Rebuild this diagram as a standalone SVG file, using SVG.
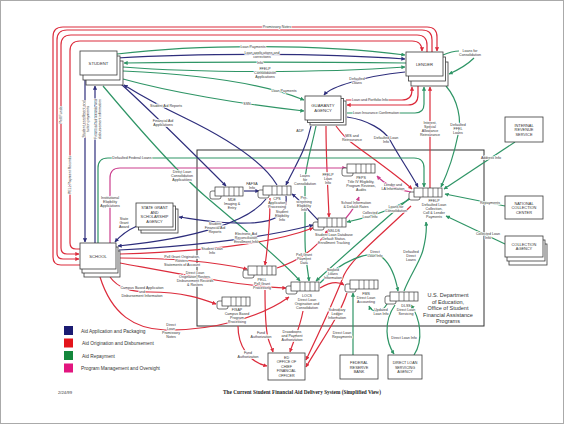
<svg xmlns="http://www.w3.org/2000/svg" width="564" height="424" viewBox="0 0 564 424">
<defs>
<style>
.bx{fill:#fff;stroke:#3a3a3a;stroke-width:0.8}
.nt{font-family:'Liberation Sans',Arial,sans-serif;font-size:4.2px;fill:#333;text-anchor:middle}
.c{fill:none;stroke-width:1.2}
.N{stroke:#2e2e7c}.R{stroke:#dc2c3c}.G{stroke:#2f9566}.M{stroke:#cc3f8e}
.eN{marker-end:url(#aN)}.eR{marker-end:url(#aR)}.eG{marker-end:url(#aG)}.eM{marker-end:url(#aM)}
.lb{font-family:'Liberation Sans',Arial,sans-serif;font-size:3.6px;fill:#333;text-anchor:middle;paint-order:stroke;stroke:#fff;stroke-width:1.4px;stroke-linejoin:round}
.lg{font-family:'Liberation Sans',Arial,sans-serif;font-size:4.8px;fill:#333}
.dept{font-family:'Liberation Sans',Arial,sans-serif;font-size:5.5px;fill:#333;text-anchor:middle}
</style>
<marker id="aN" viewBox="0 0 10 10" refX="9" refY="5" markerWidth="3.4" markerHeight="3.4" orient="auto"><path d="M0,0L10,5L0,10z" fill="#2e2e7c"/></marker>
<marker id="aR" viewBox="0 0 10 10" refX="9" refY="5" markerWidth="3.4" markerHeight="3.4" orient="auto"><path d="M0,0L10,5L0,10z" fill="#dc2c3c"/></marker>
<marker id="aG" viewBox="0 0 10 10" refX="9" refY="5" markerWidth="3.4" markerHeight="3.4" orient="auto"><path d="M0,0L10,5L0,10z" fill="#2f9566"/></marker>
<marker id="aM" viewBox="0 0 10 10" refX="9" refY="5" markerWidth="3.4" markerHeight="3.4" orient="auto"><path d="M0,0L10,5L0,10z" fill="#cc3f8e"/></marker>
<g id="store">
<rect x="-5" y="4" width="11" height="8" rx="2" fill="#fff" stroke="#333" stroke-width="0.7"/>
<rect x="0" y="0" width="28" height="9" fill="#fff" stroke="#333" stroke-width="0.7"/>
<path d="M9,0V9M14,0V9M19,0V9M24,0V9" stroke="#333" stroke-width="0.6"/>
</g>
</defs>
<rect x="0" y="0" width="564" height="424" fill="#fff"/>
<rect x="0.5" y="0.5" width="563" height="423" fill="none" stroke="#aaa" stroke-width="1"/>

<g id="dept-boundary">
<rect x="197" y="150" width="287" height="176" fill="none" stroke="#333" stroke-width="1"/>
<text class="dept" x="448"><tspan x="448" y="297">U.S. Department</tspan><tspan x="448" y="303.5">of Education,</tspan><tspan x="448" y="310">Office of Student</tspan><tspan x="448" y="316.5">Financial Assistance</tspan><tspan x="448" y="323">Programs</tspan></text>
</g>

<g id="connectors">
<path class="c R eR" d="M80,265 H61 Q53,265 53,257 V37 Q53,27 63,27 H427 Q437,27 437,37 V51"/>
<path class="c R eR" d="M432,52 V40 Q432,30 422,30 H67 Q57,30 57,40 V253 Q57,259 63,259 H79"/>
<path class="c R eR" d="M427,52 V45 Q427,35 417,35 H71 Q61,35 61,45 V248 Q61,254 67,254 H79"/>
<path class="c R eR" d="M80,249 H76 Q70,249 70,243 V51 Q70,41 80,41 H412 Q422,41 422,51"/>
<path class="c G eG" d="M117,54 C200,44 320,44 405,55"/>
<path class="c N eN" d="M117,58 C200,53 320,53 405,59"/>
<path class="c G eG" d="M406,63 C320,62 200,62 124,63"/>
<path class="c G eG" d="M123,67 C200,73 320,73 405,67"/>
<path class="c G eG" d="M123,71 C190,74 260,82 304,100"/>
<path class="c G eG" d="M123,79 C170,92 240,104 304,111"/>
<path class="c N eN" d="M405,72 C385,74 365,78 352,82 C338,86 328,90 324,95"/>
<path class="c R eR" d="M346,100 H402 Q412,100 412,90 V87"/>
<path class="c R eR" d="M418,86 V95 Q418,105 408,105 H347"/>
<path class="c G eG" d="M347,113 H415 Q424,113 424,104 V87"/>
<path class="c G" d="M443,55 C450,52 455,51 459,51"/>
<path class="c G eG" d="M474,58 C468,64 458,70 449,74"/>
<path class="c R eR" d="M430,188 V87"/>
<path class="c G eG" d="M446,86 C458,100 462,120 458,135 C454,155 448,172 441,187"/>
<path class="c N eN" d="M347,117 C368,120 384,130 390,140 C398,155 410,172 418,187"/>
<path class="c R eR" d="M336,126 C342,134 346,139 352,143 C372,158 398,176 412,189"/>
<path class="c N eN" d="M311,126 C306,150 294,168 286,185"/>
<path class="c G eG" d="M316,126 C312,145 306,165 305,180 V240 C305,258 308,270 309,281"/>
<path class="c R eR" d="M326,126 C326,160 328,190 329,217"/>
<path class="c N eN" d="M85,80 V242"/>
<path class="c N eN" d="M95,243 V86"/>
<path class="c G eG" d="M98,243 V168 Q98,158 108,158 H414 Q424,158 424,168 V187"/>
<path class="c M eM" d="M110,243 V178 Q110,168 120,168 H346"/>
<path class="c N eN" d="M121,84 C150,110 190,150 226,186"/>
<path class="c N eN" d="M277,185 C262,160 220,135 185,118 C160,106 140,95 124,85"/>
<path class="c G eG" d="M103,86 C140,130 175,170 205,196 C240,226 280,258 300,281"/>
<path class="c N eN" d="M244,191 H259"/>
<path class="c N eN" d="M286,196 C288,215 275,222 250,223 C220,224 200,220 179,217"/>
<path class="c N eN" d="M137,226 C128,230 120,236 115,242"/>
<path class="c N eN" d="M266,199 C250,220 200,238 118,246"/>
<path class="c N eN" d="M119,250 C180,247 260,239 313,225"/>
<path class="c R eR" d="M120,254 C190,252 265,246 313,228"/>
<path class="c R eR" d="M120,258 C170,258 215,262 247,269"/>
<path class="c R eR" d="M120,263 C180,274 240,286 286,288"/>
<path class="c R eR" d="M110,277 C118,288 130,292 150,292 C185,292 205,300 216,304"/>
<path class="c R eR" d="M100,277 C112,315 135,329 165,330 C210,331 260,318 289,297"/>
<path class="c N eN" d="M318,220 C308,210 300,200 292,194"/>
<path class="c R eR" d="M270,198 C270,225 268,245 265,265"/>
<path class="c R eR" d="M277,268 C295,262 315,252 328,230"/>
<path class="c R eR" d="M265,290 C265,310 266,330 268,338 C270,345 272,348 273,352"/>
<path class="c R eR" d="M238,326 C238,345 248,362 267,366"/>
<path class="c R eR" d="M303,311 C300,328 293,342 290,352"/>
<path class="c R eR" d="M320,288 C330,282 338,281 344,285"/>
<path class="c R eR" d="M411,206 C380,236 352,258 344,275 C334,300 318,335 306,360"/>
<path class="c R eR" d="M347,293 C340,315 322,340 306,367"/>
<path class="c G eG" d="M412,196 C390,215 350,250 316,281"/>
<path class="c G eG" d="M410,199 C395,208 370,217 347,222"/>
<path class="c M eM" d="M411,192 C400,190 386,186 377,176"/>
<path class="c M eM" d="M346,218 C352,211 356,205 359,197"/>
<path class="c G eG" d="M320,283 C340,262 370,248 383,258 C392,266 396,280 398,291"/>
<path class="c G eG" d="M404,291 C410,275 420,262 423,250 C426,238 427,230 426,222"/>
<path class="c G eG" d="M387,304 C382,313 372,313 369,306"/>
<path class="c G eG" d="M395,305 C383,322 386,342 394,354"/>
<path class="c G eG" d="M414,355 C424,340 420,318 411,305"/>
<path class="c G eG" d="M353,355 V293"/>
<path class="c G eG" d="M515,142 L444,189"/>
<path class="c G eG" d="M505,206 L445,194"/>
<path class="c G eG" d="M505,244 L446,216"/>

<text class="lb" x="277" y="28.3">Promissory Notes</text>
<text class="lb" transform="translate(62.3,115) rotate(-90)">Pell Funds</text>
<text class="lb" transform="translate(71.3,175) rotate(-90)">PELL Payment Records</text>
<text class="lb" transform="translate(87,119) rotate(-90)"><tspan x="0" y="-2">Student enrollment and</tspan><tspan x="0" y="2">tuition payments</tspan></text>
<text class="lb" transform="translate(99,119) rotate(-90)"><tspan x="0" y="-2">Financial aid awards and</tspan><tspan x="0" y="2">disbursement information</tspan></text>
<text class="lb" x="253" y="48">Loan Payments</text>
<text class="lb" x="262"><tspan x="262" y="53.8">Loan applications and</tspan><tspan x="262" y="57.8">corrections</tspan></text>
<text class="lb" x="260" y="63.6">Info</text>
<text class="lb" x="265"><tspan x="265" y="70">FFELP</tspan><tspan x="265" y="74">Consolidation</tspan><tspan x="265" y="78">Applications</tspan></text>
<text class="lb" x="284" y="92">Loan Payments</text>
<text class="lb" x="247" y="104.8">SSN</text>
<text class="lb" x="357"><tspan x="357" y="79.5">Defaulted</tspan><tspan x="357" y="83.5">Loans</tspan></text>
<text class="lb" x="370" y="101.3">Loan and Portfolio Info</text>
<text class="lb" x="376" y="114.3">Loan Insurance Confirmation</text>
<text class="lb" x="470"><tspan x="470" y="51.5">Loans for</tspan><tspan x="470" y="55.5">Consolidation</tspan></text>
<text class="lb" x="430"><tspan x="430" y="124">Interest,</tspan><tspan x="430" y="128">Special</tspan><tspan x="430" y="132">Allowance</tspan><tspan x="430" y="136">Reinsurance</tspan></text>
<text class="lb" x="458"><tspan x="458" y="126">Defaulted</tspan><tspan x="458" y="130">FFEL</tspan><tspan x="458" y="134">Loans</tspan></text>
<text class="lb" x="386"><tspan x="386" y="138.5">Defaulted Loan</tspan><tspan x="386" y="142.5">Info</tspan></text>
<text class="lb" x="352"><tspan x="352" y="136.5">MIS and</tspan><tspan x="352" y="140.5">Reinsurance</tspan></text>
<text class="lb" x="300" y="132">ADP</text>
<text class="lb" x="305"><tspan x="305" y="177">Loans</tspan><tspan x="305" y="181">for</tspan><tspan x="305" y="185">Consolidation</tspan></text>
<text class="lb" x="328"><tspan x="328" y="176">FFELP</tspan><tspan x="328" y="180">Loan</tspan><tspan x="328" y="184">Info</tspan></text>
<text class="lb" x="304"><tspan x="304" y="198.5">Pre-</tspan><tspan x="304" y="202.5">screening</tspan><tspan x="304" y="206.5">Eligibility</tspan><tspan x="304" y="210.5">Info</tspan></text>
<text class="lb" x="132" y="159.3">Defaulted Federal Loans</text>
<text class="lb" x="110"><tspan x="110" y="199">Institutional</tspan><tspan x="110" y="203">Eligibility</tspan><tspan x="110" y="207">Applications</tspan></text>
<text class="lb" x="163"><tspan x="163" y="122">Financial Aid</tspan><tspan x="163" y="126">Applications</tspan></text>
<text class="lb" x="166" y="107">Student Aid Reports</text>
<text class="lb" x="182"><tspan x="182" y="173">Direct Loan</tspan><tspan x="182" y="177">Consolidation</tspan><tspan x="182" y="181">Applications</tspan></text>
<text class="lb" x="252"><tspan x="252" y="185">FAFSA</tspan><tspan x="252" y="189">Info</tspan></text>
<text class="lb" x="282"><tspan x="282" y="213">Student</tspan><tspan x="282" y="217">Eligibility</tspan><tspan x="282" y="221">Info</tspan></text>
<text class="lb" x="124"><tspan x="124" y="220">State</tspan><tspan x="124" y="224">Grant</tspan><tspan x="124" y="228">Award</tspan></text>
<text class="lb" x="215"><tspan x="215" y="225">Student</tspan><tspan x="215" y="229">Financial Aid</tspan><tspan x="215" y="233">Reports</tspan></text>
<text class="lb" x="246"><tspan x="246" y="234.5">Electronic Aid</tspan><tspan x="246" y="238.5">Reconciliation</tspan><tspan x="246" y="242.5">Enrollment Info</tspan></text>
<text class="lb" x="212"><tspan x="212" y="249.5">Student Loan</tspan><tspan x="212" y="253.5">Info</tspan></text>
<text class="lb" x="182"><tspan x="182" y="257.5">Pell Grant Origination,</tspan><tspan x="182" y="261.5">Rosters,</tspan><tspan x="182" y="265.5">Statements of Account</tspan></text>
<text class="lb" x="195"><tspan x="195" y="273.5">Direct Loan</tspan><tspan x="195" y="277.5">Origination Rosters,</tspan><tspan x="195" y="281.5">Disbursement Records</tspan><tspan x="195" y="285.5">&amp; Rosters</tspan></text>
<text class="lb" x="142"><tspan x="142" y="289">Campus Based Application</tspan><tspan x="142" y="293">and</tspan><tspan x="142" y="297">Disbursement Information</tspan></text>
<text class="lb" x="171"><tspan x="171" y="325.5">Direct</tspan><tspan x="171" y="329.5">Loan</tspan><tspan x="171" y="333.5">Promissory</tspan><tspan x="171" y="337.5">Notes</tspan></text>
<text class="lb" x="304"><tspan x="304" y="256">Pell Grant</tspan><tspan x="304" y="260">Payment</tspan><tspan x="304" y="264">Data</tspan></text>
<text class="lb" x="261"><tspan x="261" y="334">Fund</tspan><tspan x="261" y="338">Authorization</tspan></text>
<text class="lb" x="248"><tspan x="248" y="353.5">Fund</tspan><tspan x="248" y="357.5">Authorization</tspan></text>
<text class="lb" x="292"><tspan x="292" y="333">Drawdowns</tspan><tspan x="292" y="337">and Payment</tspan><tspan x="292" y="341">Authorization</tspan></text>
<text class="lb" x="333"><tspan x="333" y="271">Booked</tspan><tspan x="333" y="275">Loans</tspan><tspan x="333" y="279">Information</tspan></text>
<text class="lb" x="337"><tspan x="337" y="311">Subsidiary</tspan><tspan x="337" y="315">Ledger</tspan><tspan x="337" y="319">Information</tspan></text>
<text class="lb" x="342"><tspan x="342" y="334">Direct Loan</tspan><tspan x="342" y="338">Repayments</tspan></text>
<text class="lb" x="396"><tspan x="396" y="207.5">Loans for</tspan><tspan x="396" y="211.5">Consolidation</tspan></text>
<text class="lb" x="370"><tspan x="370" y="214">Collected</tspan><tspan x="370" y="218">Loan Info</tspan></text>
<text class="lb" x="393"><tspan x="393" y="186">Lender and</tspan><tspan x="393" y="190">LA Information</tspan></text>
<text class="lb" x="356"><tspan x="356" y="204">School Information</tspan><tspan x="356" y="208">&amp; Default Rates</tspan></text>
<text class="lb" x="375"><tspan x="375" y="253">Direct</tspan><tspan x="375" y="257">Loan Info</tspan></text>
<text class="lb" x="411"><tspan x="411" y="253">Defaulted</tspan><tspan x="411" y="257">Direct</tspan><tspan x="411" y="261">Loans</tspan></text>
<text class="lb" x="381"><tspan x="381" y="311">Updated</tspan><tspan x="381" y="315">Loan Info</tspan></text>
<text class="lb" x="404" y="339">Direct Loan Info</text>
<text class="lb" x="491" y="159.2">Address Info</text>
<text class="lb" x="490" y="204.3">Repayments</text>
<text class="lb" x="488"><tspan x="488" y="235.3">Collected Loan</tspan><tspan x="488" y="239.3">Info</tspan></text>
</g>

<g id="student">
<rect class="bx" x="86" y="61" width="37" height="24"/><rect class="bx" x="83" y="56" width="37" height="24"/><rect class="bx" x="80" y="51" width="37" height="24"/>
<text class="nt" x="98.5" y="64.5">STUDENT</text>
</g>
<g id="lender">
<rect class="bx" x="411" y="62" width="37" height="24"/><rect class="bx" x="408.5" y="57" width="37" height="24"/><rect class="bx" x="406" y="52" width="37" height="24"/>
<text class="nt" x="424.5" y="65.5">LENDER</text>
</g>
<g id="guaranty-agency">
<rect class="bx" x="310" y="101" width="36" height="24"/><rect class="bx" x="307.5" y="98.5" width="36" height="24"/><rect class="bx" x="305" y="96" width="36" height="24"/>
<text class="nt" x="323"><tspan x="323" y="106.5">GUARANTY</tspan><tspan x="323" y="111.5">AGENCY</tspan></text>
</g>
<g id="school">
<rect class="bx" x="84" y="251" width="36" height="26"/><rect class="bx" x="82" y="247" width="36" height="26"/><rect class="bx" x="80" y="243" width="36" height="26"/>
<text class="nt" x="98" y="257.5">SCHOOL</text>
</g>
<g id="state-grant-agency">
<rect class="bx" x="141" y="209" width="37" height="24"/><rect class="bx" x="138.5" y="206" width="37" height="24"/><rect class="bx" x="136" y="203" width="37" height="24"/>
<text class="nt" x="154.5" style="font-size:3.9px"><tspan x="154.5" y="209">STATE GRANT</tspan><tspan x="154.5" y="213.5">AND</tspan><tspan x="154.5" y="218">SCHOLARSHIP</tspan><tspan x="154.5" y="222.5">AGENCY</tspan></text>
</g>
<g id="irs">
<rect class="bx" x="505" y="117" width="38" height="25"/>
<text class="nt" x="524" style="font-size:3.9px"><tspan x="524" y="126.5">INTERNAL</tspan><tspan x="524" y="131">REVENUE</tspan><tspan x="524" y="135.5">SERVICE</tspan></text>
</g>
<g id="national-collection-center">
<rect class="bx" x="505" y="196" width="38" height="23"/>
<text class="nt" x="524" style="font-size:3.9px"><tspan x="524" y="204.5">NATIONAL</tspan><tspan x="524" y="209">COLLECTION</tspan><tspan x="524" y="213.5">CENTER</tspan></text>
</g>
<g id="collection-agency">
<rect class="bx" x="509" y="244" width="38" height="21"/><rect class="bx" x="507" y="240" width="38" height="21"/><rect class="bx" x="505" y="236" width="38" height="21"/>
<text class="nt" x="524" style="font-size:3.9px"><tspan x="524" y="245.8">COLLECTION</tspan><tspan x="524" y="250.3">AGENCY</tspan></text>
</g>
<g id="ocfo">
<rect class="bx" x="268" y="353" width="37" height="27"/>
<text class="nt" x="286.5" style="font-size:3.7px"><tspan x="286.5" y="358.9">ED</tspan><tspan x="286.5" y="363.4">OFFICE OF</tspan><tspan x="286.5" y="367.9">CHIEF</tspan><tspan x="286.5" y="372.4">FINANCIAL</tspan><tspan x="286.5" y="376.9">OFFICER</tspan></text>
</g>
<g id="federal-reserve-bank">
<rect class="bx" x="340" y="355" width="38" height="24"/>
<text class="nt" x="359" style="font-size:3.9px"><tspan x="359" y="364">FEDERAL</tspan><tspan x="359" y="368.5">RESERVE</tspan><tspan x="359" y="373">BANK</tspan></text>
</g>
<g id="direct-loan-servicing-agency">
<rect class="bx" x="388" y="355" width="34" height="24"/>
<text class="nt" x="405" style="font-size:3.7px"><tspan x="405" y="364">DIRECT LOAN</tspan><tspan x="405" y="368.5">SERVICING</tspan><tspan x="405" y="373">AGENCY</tspan></text>
</g>

<g id="store-mde"><use href="#store" x="215" y="187"/><text class="lb" x="232"><tspan x="232" y="201">MDE</tspan><tspan x="232" y="205">Imaging &amp;</tspan><tspan x="232" y="209">Entry</tspan></text></g>
<g id="store-cps"><use href="#store" x="263" y="186"/><text class="lb" x="277"><tspan x="277" y="200">CPS</tspan><tspan x="277" y="204">Application</tspan><tspan x="277" y="208">Processing</tspan></text></g>
<g id="store-peps"><use href="#store" x="347" y="164"/><text class="lb" x="361"><tspan x="361" y="178.5">PEPS</tspan><tspan x="361" y="182.5">Title IV Eligibility,</tspan><tspan x="361" y="186.5">Program Reviews,</tspan><tspan x="361" y="190.5">Audits</tspan></text></g>
<g id="store-nslds"><use href="#store" x="318" y="218"/><text class="lb" x="334"><tspan x="334" y="232">NSLDS</tspan><tspan x="334" y="236">Student Loan Database</tspan><tspan x="334" y="240">Default Status,</tspan><tspan x="334" y="244">Enrollment Tracking</tspan></text></g>
<g id="store-ffelp"><use href="#store" x="414" y="188"/><text class="lb" x="434"><tspan x="434" y="202">FFELP</tspan><tspan x="434" y="206">Defaulted Loan</tspan><tspan x="434" y="210">Collection,</tspan><tspan x="434" y="214">Coll &amp; Lender</tspan><tspan x="434" y="218">Payments</tspan></text></g>
<g id="store-pell"><use href="#store" x="248" y="266"/><text class="lb" x="262"><tspan x="262" y="280.5">PELL</tspan><tspan x="262" y="284.5">Pell Grant</tspan><tspan x="262" y="288.5">Processing</tspan></text></g>
<g id="store-locs"><use href="#store" x="291" y="282"/><text class="lb" x="307"><tspan x="307" y="296.5">LOCS</tspan><tspan x="307" y="300.5">Direct Loan</tspan><tspan x="307" y="304.5">Origination and</tspan><tspan x="307" y="308.5">Consolidation</tspan></text></g>
<g id="store-fisap"><use href="#store" x="222" y="297"/><text class="lb" x="237"><tspan x="237" y="311">FISAP</tspan><tspan x="237" y="315">Campus Based</tspan><tspan x="237" y="319">Program</tspan><tspan x="237" y="323">Processing</tspan></text></g>
<g id="store-fms"><use href="#store" x="350" y="280"/><text class="lb" x="366"><tspan x="366" y="295">FMS</tspan><tspan x="366" y="299">Direct Loan</tspan><tspan x="366" y="303">Accounting</tspan></text></g>
<g id="store-dlss"><use href="#store" x="390" y="292"/><text class="lb" x="406"><tspan x="406" y="306.5">DLSS</tspan><tspan x="406" y="310.5">Direct Loan</tspan><tspan x="406" y="314.5">Servicing</tspan></text></g>

<g id="legend">
<rect x="64" y="326" width="9" height="9" fill="#1b1b72"/><text class="lg" x="81" y="332.5">Aid Application and Packaging</text>
<rect x="64" y="338.5" width="9" height="9" fill="#e3141b"/><text class="lg" x="82" y="345">Aid Origination and Disbursement</text>
<rect x="64" y="351" width="9" height="9" fill="#14873c"/><text class="lg" x="82" y="357.5">Aid Repayment</text>
<rect x="64" y="363.5" width="9" height="9" fill="#e2157f"/><text class="lg" x="81" y="370">Program Management and Oversight</text>
</g>
<text x="58" y="393.5" style="font-family:'Liberation Sans',Arial,sans-serif;font-size:4.2px;fill:#333">2/24/99</text>
<text x="302" y="393.5" style="font-family:'Liberation Serif','Times New Roman',serif;font-size:5.3px;font-weight:bold;fill:#222;text-anchor:middle">The Current Student Financial Aid Delivery System (Simplified View)</text>
</svg>
